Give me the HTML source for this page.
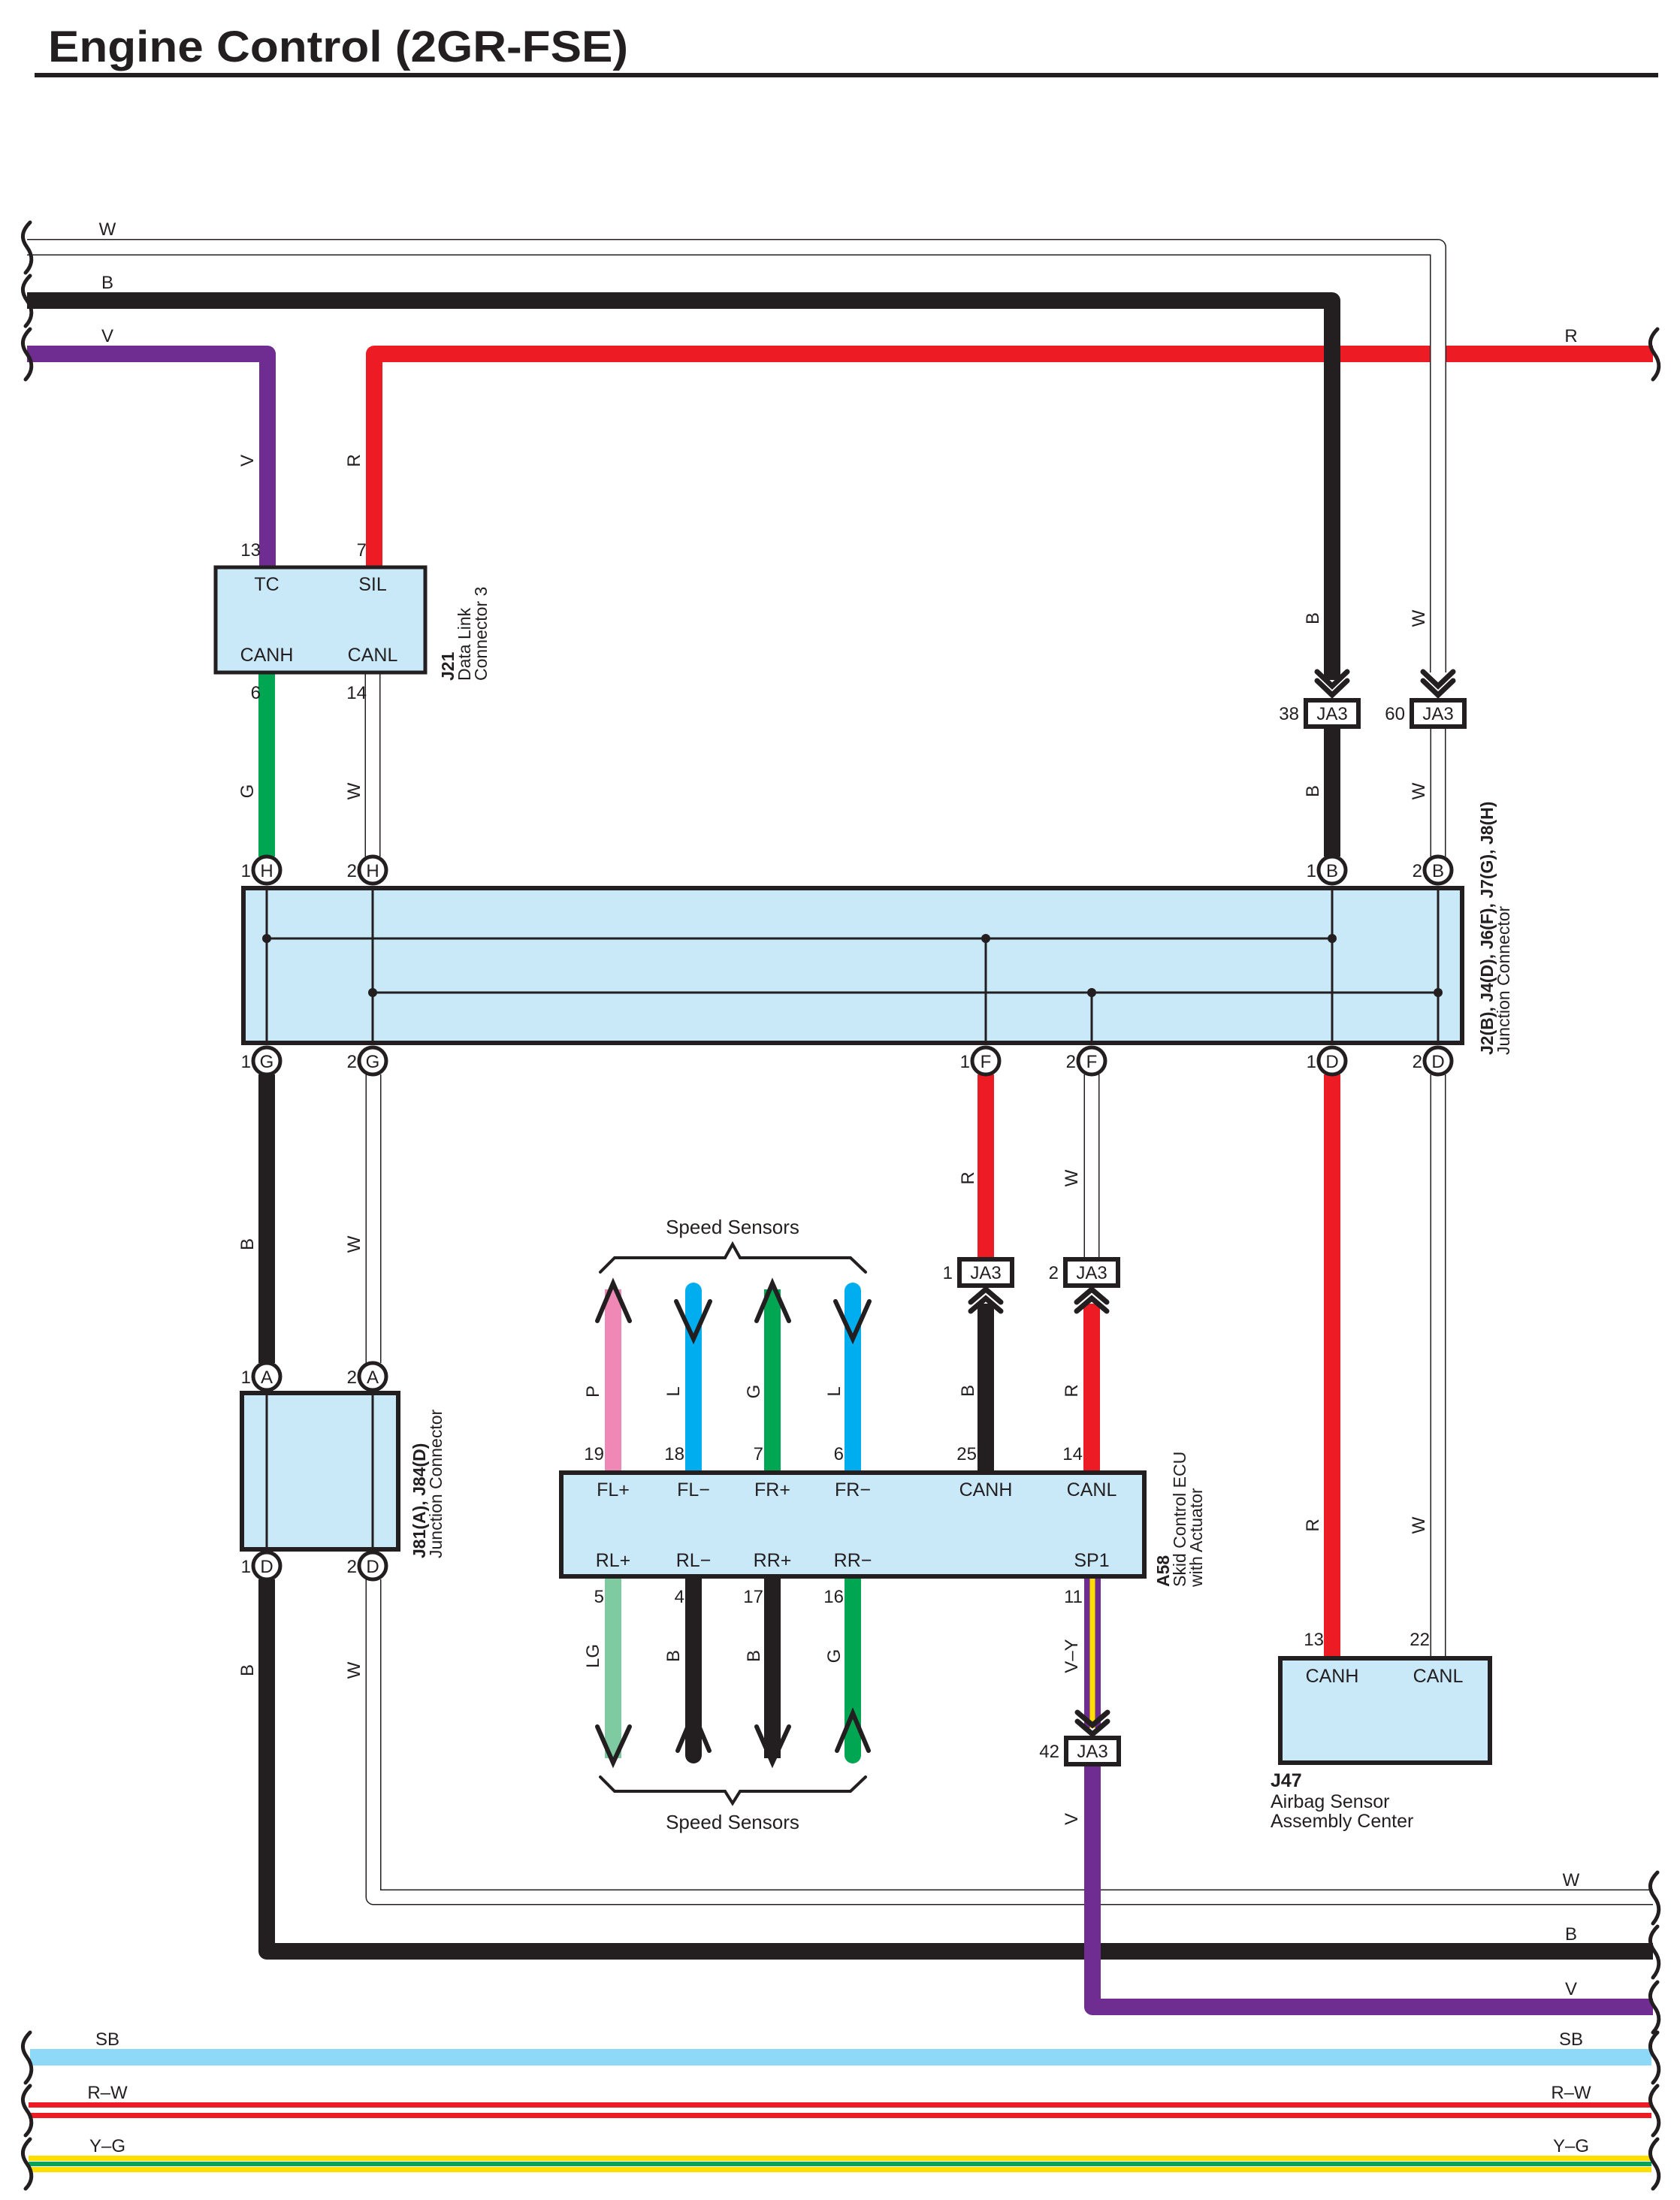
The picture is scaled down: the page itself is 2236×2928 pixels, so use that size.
<!DOCTYPE html>
<html><head><meta charset="utf-8"><style>
html,body{margin:0;padding:0;background:#fff}
svg{display:block}
text{font-family:"Liberation Sans",sans-serif;fill:#231f20}
</style></head><body>
<svg width="2236" height="2928" viewBox="0 0 2236 2928" xmlns="http://www.w3.org/2000/svg">
<defs>
<g id="vdn"><polyline points="-20,-20 0,0 20,-20" fill="none" stroke="#231f20" stroke-width="7" stroke-linecap="round"/></g>
</defs>
<!-- Title -->
<text x="64" y="82" font-size="58" font-weight="bold" textLength="772" lengthAdjust="spacingAndGlyphs">Engine Control (2GR-FSE)</text>
<rect x="46" y="97" width="2161" height="6" fill="#231f20"/>

<g fill="none" stroke-linejoin="round" stroke-linecap="butt">
<!-- top wires -->
<path d="M36,471 H356 V753" stroke="#6f2c91" stroke-width="22"/>
<path d="M498,753 V471 H2200" stroke="#ed1c24" stroke-width="22"/>
<path d="M36,400 H1773 V905" stroke="#231f20" stroke-width="22"/>
<path d="M36,329 H1914 V895" stroke="#231f20" stroke-width="22"/>
<path d="M36,329 H1914 V895" stroke="#fff" stroke-width="19"/>

<!-- J21 down wires -->
<path d="M355,897 V1140" stroke="#00a651" stroke-width="22"/>
<path d="M496,897 V1140" stroke="#231f20" stroke-width="21"/>
<path d="M496,897 V1140" stroke="#fff" stroke-width="18"/>

<!-- JA3 to junction -->
<path d="M1773,969 V1140" stroke="#231f20" stroke-width="22"/>
<path d="M1914,969 V1140" stroke="#231f20" stroke-width="21"/>
<path d="M1914,969 V1140" stroke="#fff" stroke-width="18"/>

<!-- below junction -->
<path d="M1312,1430 V1674" stroke="#ed1c24" stroke-width="22"/>
<path d="M1453,1430 V1674" stroke="#231f20" stroke-width="21"/>
<path d="M1453,1430 V1674" stroke="#fff" stroke-width="18"/>
<path d="M1773,1430 V2204" stroke="#ed1c24" stroke-width="22"/>
<path d="M1914,1430 V2204" stroke="#231f20" stroke-width="21"/>
<path d="M1914,1430 V2204" stroke="#fff" stroke-width="18"/>

<path d="M355,1430 V1814" stroke="#231f20" stroke-width="22"/>
<path d="M497,1430 V1814" stroke="#231f20" stroke-width="21"/>
<path d="M497,1430 V1814" stroke="#fff" stroke-width="18"/>

<path d="M355,2102 V2597 H2200" stroke="#231f20" stroke-width="22"/>
<path d="M497,2102 V2525 H2200" stroke="#231f20" stroke-width="21"/>
<path d="M497,2102 V2525 H2200" stroke="#fff" stroke-width="18"/>
<path d="M1454,2350 V2671 H2200" stroke="#6f2c91" stroke-width="22"/>

<!-- JA3 bottom pair to ECU -->
<path d="M1312,1735 V1957" stroke="#231f20" stroke-width="22"/>
<path d="M1453,1735 V1957" stroke="#ed1c24" stroke-width="22"/>

<!-- V-Y -->
<path d="M1454,2101 V2300" stroke="#6f2c91" stroke-width="22"/>
<path d="M1454,2101 V2300" stroke="#ffde00" stroke-width="7"/>

<!-- sensor wires top -->
<path d="M816,1957 V1716" stroke="#f088b6" stroke-width="22"/>
<path d="M923,1957 V1718" stroke="#00aeef" stroke-width="22" stroke-linecap="round"/>
<path d="M1028,1957 V1716" stroke="#00a651" stroke-width="22"/>
<path d="M1135,1957 V1718" stroke="#00aeef" stroke-width="22" stroke-linecap="round"/>
<!-- sensor wires bottom -->
<path d="M816,2101 V2340" stroke="#7ecba1" stroke-width="22"/>
<path d="M923,2101 V2336" stroke="#231f20" stroke-width="22" stroke-linecap="round"/>
<path d="M1028,2101 V2340" stroke="#231f20" stroke-width="22"/>
<path d="M1135,2101 V2336" stroke="#00a651" stroke-width="22" stroke-linecap="round"/>
</g>

<!-- sensor chevrons -->
<g fill="none" stroke="#231f20" stroke-width="6" stroke-linecap="round" stroke-linejoin="miter">
<polyline points="795,1758 816,1708 838,1758"/>
<polyline points="1007,1758 1028,1708 1050,1758"/>
<polyline points="900,1732 923,1782 945,1732"/>
<polyline points="1112,1732 1135,1782 1157,1732"/>
<polyline points="795,2298 816,2346 838,2298"/>
<polyline points="1007,2298 1028,2346 1050,2298"/>
<polyline points="902,2330 923,2280 944,2330"/>
<polyline points="1114,2330 1135,2280 1156,2330"/>
<!-- braces -->
<polyline points="799,1693 818,1674 965,1674 975,1656 985,1674 1132,1674 1152,1693" stroke-width="4"/>
<polyline points="799,2365 818,2384 965,2384 975,2400 985,2384 1132,2384 1152,2365" stroke-width="4"/>
</g>

<!-- JA3 chevrons -->
<g fill="none" stroke="#231f20" stroke-width="7" stroke-linecap="round">
<polyline points="1753,894 1773,913 1793,894"/><polyline points="1753,906 1773,925 1793,906"/>
<polyline points="1894,894 1914,913 1934,894"/><polyline points="1894,906 1914,925 1934,906"/>
<polyline points="1292,1733 1312,1716 1332,1733"/><polyline points="1292,1745 1312,1728 1332,1745"/>
<polyline points="1433,1733 1453,1716 1473,1733"/><polyline points="1433,1745 1453,1728 1473,1745"/>
<polyline points="1434,2279 1454,2296 1474,2279"/><polyline points="1434,2291 1454,2308 1474,2291"/>
</g>

<!-- JA3 boxes -->
<g fill="#fff" stroke="#231f20" stroke-width="6">
<rect x="1738" y="932" width="70" height="35"/>
<rect x="1879" y="932" width="70" height="35"/>
<rect x="1277" y="1676" width="70" height="35"/>
<rect x="1418" y="1676" width="70" height="35"/>
<rect x="1419" y="2313" width="70" height="35"/>
</g>
<g font-size="24" text-anchor="middle">
<text x="1773" y="958">JA3</text><text x="1914" y="958">JA3</text>
<text x="1312" y="1702">JA3</text><text x="1453" y="1702">JA3</text>
<text x="1454" y="2339">JA3</text>
</g>
<g font-size="24" text-anchor="end">
<text x="1729" y="958">38</text><text x="1870" y="958">60</text>
<text x="1268" y="1702">1</text><text x="1409" y="1702">2</text>
<text x="1410" y="2339">42</text>
</g>

<!-- J21 box -->
<rect x="287" y="755" width="279" height="140" fill="#c9e8f8" stroke="#231f20" stroke-width="5"/>
<g font-size="25" text-anchor="middle">
<text x="355" y="786">TC</text><text x="496" y="786">SIL</text>
<text x="355" y="880">CANH</text><text x="496" y="880">CANL</text>
</g>
<g font-size="24" text-anchor="end">
<text x="347" y="740">13</text><text x="488" y="740">7</text>
<text x="347" y="930">6</text><text x="488" y="930">14</text>
</g>
<g font-size="23" transform="translate(604,906) rotate(-90)">
<text x="0" y="0" font-weight="bold">J21</text>
<text x="0" y="22">Data Link</text>
<text x="0" y="44">Connector 3</text>
</g>

<!-- Junction connector -->
<rect x="324" y="1182" width="1622" height="206" fill="#c9e8f8" stroke="#231f20" stroke-width="6"/>
<g stroke="#231f20" stroke-width="3" fill="none">
<line x1="355" y1="1182" x2="355" y2="1388"/><line x1="496" y1="1182" x2="496" y2="1388"/>
<line x1="1773" y1="1182" x2="1773" y2="1388"/><line x1="1914" y1="1182" x2="1914" y2="1388"/>
<line x1="355" y1="1249" x2="1773" y2="1249"/>
<line x1="496" y1="1321" x2="1914" y2="1321"/>
<line x1="1312" y1="1249" x2="1312" y2="1388"/>
<line x1="1453" y1="1321" x2="1453" y2="1388"/>
</g>
<g fill="#231f20">
<circle cx="355" cy="1249" r="6"/><circle cx="1312" cy="1249" r="6"/><circle cx="1773" cy="1249" r="6"/>
<circle cx="496" cy="1321" r="6"/><circle cx="1453" cy="1321" r="6"/><circle cx="1914" cy="1321" r="6"/>
</g>
<!-- J81 -->
<rect x="322" y="1854" width="208" height="208" fill="#c9e8f8" stroke="#231f20" stroke-width="6"/>
<g stroke="#231f20" stroke-width="3"><line x1="355" y1="1854" x2="355" y2="2062"/><line x1="496" y1="1854" x2="496" y2="2062"/></g>

<!-- pin circles -->
<g fill="#fff" stroke="#231f20" stroke-width="5">
<circle cx="355" cy="1158" r="18"/><circle cx="496" cy="1158" r="18"/><circle cx="1773" cy="1158" r="18"/><circle cx="1914" cy="1158" r="18"/>
<circle cx="355" cy="1412" r="18"/><circle cx="496" cy="1412" r="18"/><circle cx="1312" cy="1412" r="18"/><circle cx="1453" cy="1412" r="18"/><circle cx="1773" cy="1412" r="18"/><circle cx="1914" cy="1412" r="18"/>
<circle cx="355" cy="1832" r="18"/><circle cx="496" cy="1832" r="18"/>
<circle cx="355" cy="2084" r="18"/><circle cx="496" cy="2084" r="18"/>
</g>
<g font-size="24" text-anchor="middle">
<text x="355" y="1167">H</text><text x="496" y="1167">H</text><text x="1773" y="1167">B</text><text x="1914" y="1167">B</text>
<text x="355" y="1421">G</text><text x="496" y="1421">G</text><text x="1312" y="1421">F</text><text x="1453" y="1421">F</text><text x="1773" y="1421">D</text><text x="1914" y="1421">D</text>
<text x="355" y="1841">A</text><text x="496" y="1841">A</text>
<text x="355" y="2093">D</text><text x="496" y="2093">D</text>
</g>
<g font-size="24" text-anchor="end">
<text x="334" y="1167">1</text><text x="475" y="1167">2</text><text x="1752" y="1167">1</text><text x="1893" y="1167">2</text>
<text x="334" y="1421">1</text><text x="475" y="1421">2</text><text x="1291" y="1421">1</text><text x="1432" y="1421">2</text><text x="1752" y="1421">1</text><text x="1893" y="1421">2</text>
<text x="334" y="1841">1</text><text x="475" y="1841">2</text>
<text x="334" y="2093">1</text><text x="475" y="2093">2</text>
</g>
<g font-size="23" transform="translate(1987,1404) rotate(-90)">
<text x="0" y="0" font-weight="bold">J2(B), J4(D), J6(F), J7(G), J8(H)</text>
<text x="0" y="22">Junction Connector</text>
</g>
<g font-size="23" transform="translate(566,2074) rotate(-90)">
<text x="0" y="0" font-weight="bold">J81(A), J84(D)</text>
<text x="0" y="22">Junction Connector</text>
</g>

<!-- ECU A58 -->
<rect x="747" y="1960" width="776" height="138" fill="#c9e8f8" stroke="#231f20" stroke-width="6"/>
<g font-size="25" text-anchor="middle">
<text x="816" y="1991">FL+</text><text x="923" y="1991">FL−</text><text x="1028" y="1991">FR+</text><text x="1135" y="1991">FR−</text>
<text x="1312" y="1991">CANH</text><text x="1453" y="1991">CANL</text>
<text x="816" y="2085">RL+</text><text x="923" y="2085">RL−</text><text x="1028" y="2085">RR+</text><text x="1135" y="2085">RR−</text>
<text x="1453" y="2085">SP1</text>
</g>
<g font-size="24" text-anchor="end">
<text x="804" y="1943">19</text><text x="911" y="1943">18</text><text x="1016" y="1943">7</text><text x="1123" y="1943">6</text>
<text x="1300" y="1943">25</text><text x="1441" y="1943">14</text>
<text x="804" y="2133">5</text><text x="911" y="2133">4</text><text x="1016" y="2133">17</text><text x="1123" y="2133">16</text>
<text x="1441" y="2133">11</text>
</g>
<g font-size="23" transform="translate(1556,2112) rotate(-90)">
<text x="0" y="0" font-weight="bold">A58</text>
<text x="0" y="22">Skid Control ECU</text>
<text x="0" y="44">with Actuator</text>
</g>
<g font-size="26" text-anchor="middle">
<text x="975" y="1642">Speed Sensors</text>
<text x="975" y="2434">Speed Sensors</text>
</g>

<!-- J47 -->
<rect x="1704" y="2207" width="279" height="139" fill="#c9e8f8" stroke="#231f20" stroke-width="6"/>
<g font-size="25" text-anchor="middle"><text x="1773" y="2239">CANH</text><text x="1914" y="2239">CANL</text></g>
<g font-size="24" text-anchor="end"><text x="1762" y="2190">13</text><text x="1903" y="2190">22</text></g>
<g font-size="25">
<text x="1691" y="2378" font-weight="bold">J47</text>
<text x="1691" y="2406">Airbag Sensor</text>
<text x="1691" y="2432">Assembly Center</text>
</g>

<!-- rotated wire labels -->
<g font-size="24" text-anchor="middle">
<text transform="translate(337,613) rotate(-90)">V</text>
<text transform="translate(479,613) rotate(-90)">R</text>
<text transform="translate(337,1053) rotate(-90)">G</text>
<text transform="translate(479,1053) rotate(-90)">W</text>
<text transform="translate(1755,823) rotate(-90)">B</text>
<text transform="translate(1896,823) rotate(-90)">W</text>
<text transform="translate(1755,1053) rotate(-90)">B</text>
<text transform="translate(1896,1053) rotate(-90)">W</text>
<text transform="translate(337,1656) rotate(-90)">B</text>
<text transform="translate(479,1656) rotate(-90)">W</text>
<text transform="translate(337,2223) rotate(-90)">B</text>
<text transform="translate(479,2223) rotate(-90)">W</text>
<text transform="translate(1296,1568) rotate(-90)">R</text>
<text transform="translate(1434,1568) rotate(-90)">W</text>
<text transform="translate(1296,1851) rotate(-90)">B</text>
<text transform="translate(1434,1851) rotate(-90)">R</text>
<text transform="translate(1755,2030) rotate(-90)">R</text>
<text transform="translate(1896,2030) rotate(-90)">W</text>
<text transform="translate(797,1852) rotate(-90)">P</text>
<text transform="translate(904,1852) rotate(-90)">L</text>
<text transform="translate(1011,1852) rotate(-90)">G</text>
<text transform="translate(1118,1852) rotate(-90)">L</text>
<text transform="translate(797,2204) rotate(-90)">LG</text>
<text transform="translate(904,2204) rotate(-90)">B</text>
<text transform="translate(1011,2204) rotate(-90)">B</text>
<text transform="translate(1118,2204) rotate(-90)">G</text>
<text transform="translate(1434,2204) rotate(-90)">V–Y</text>
<text transform="translate(1434,2421) rotate(-90)">V</text>
</g>

<!-- horizontal wire labels -->
<g font-size="24" text-anchor="middle">
<text x="143" y="313">W</text><text x="143" y="384">B</text><text x="143" y="455">V</text>
<text x="2091" y="455">R</text>
<text x="2091" y="2510">W</text><text x="2091" y="2582">B</text><text x="2091" y="2655">V</text>
<text x="143" y="2722">SB</text><text x="2091" y="2722">SB</text>
<text x="143" y="2793">R–W</text><text x="2091" y="2793">R–W</text>
<text x="143" y="2864">Y–G</text><text x="2091" y="2864">Y–G</text>
</g>

<!-- bottom bus wires -->
<rect x="40" y="2727" width="2158" height="22" fill="#8ed8f8"/>
<rect x="38" y="2798" width="2160" height="7" fill="#ed1c24"/>
<rect x="38" y="2812" width="2160" height="7" fill="#ed1c24"/>
<rect x="38" y="2869" width="2160" height="7" fill="#ffde00"/>
<rect x="38" y="2877" width="2160" height="6" fill="#00a651"/>
<rect x="38" y="2884" width="2160" height="7" fill="#ffde00"/>

<!-- braces -->
<g fill="none" stroke="#231f20" stroke-width="5" stroke-linecap="round">
<path d="M40,296 C28,308 28,318 36,329 C44,340 44,352 34,363"/>
<path d="M40,367 C28,379 28,389 36,400 C44,411 44,423 34,434"/>
<path d="M40,438 C28,450 28,460 36,471 C44,482 44,494 34,505"/>
<path d="M2206,438 C2194,450 2194,460 2202,471 C2210,482 2210,494 2200,505"/>
<path d="M2206,2492 C2194,2504 2194,2514 2202,2525 C2210,2536 2210,2548 2200,2560"/>
<path d="M2206,2564 C2194,2576 2194,2586 2202,2597 C2210,2608 2210,2620 2200,2632"/>
<path d="M2206,2638 C2194,2650 2194,2660 2202,2671 C2210,2682 2210,2694 2200,2705"/>
<path d="M40,2705 C28,2717 28,2727 36,2738 C44,2749 44,2761 34,2772"/>
<path d="M40,2776 C28,2788 28,2798 36,2809 C44,2820 44,2832 34,2842"/>
<path d="M40,2847 C28,2859 28,2869 36,2880 C44,2891 44,2903 34,2913"/>
<path d="M2206,2705 C2194,2717 2194,2727 2202,2738 C2210,2749 2210,2761 2200,2772"/>
<path d="M2206,2776 C2194,2788 2194,2798 2202,2809 C2210,2820 2210,2832 2200,2842"/>
<path d="M2206,2847 C2194,2859 2194,2869 2202,2880 C2210,2891 2210,2903 2200,2913"/>
</g>
</svg>
</body></html>
